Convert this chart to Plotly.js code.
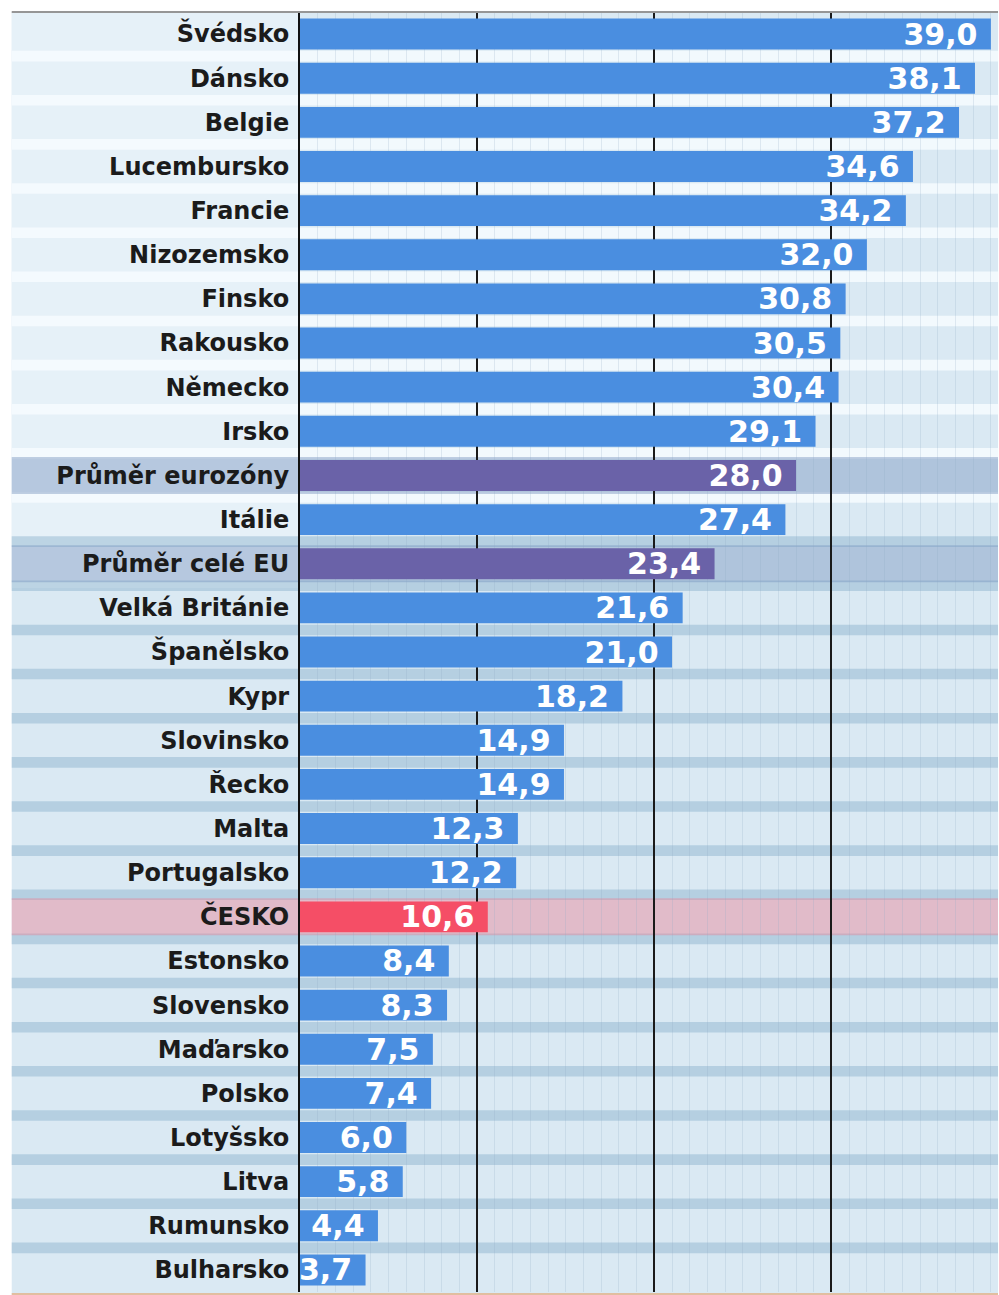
<!DOCTYPE html>
<html>
<head>
<meta charset="utf-8">
<script src="https://cdn.plot.ly/plotly-3.0.1.min.js"></script>
<style>html,body{margin:0;padding:0;background:#fff;}#chart{width:999px;height:1295px;}</style>
</head>
<body>
<div id="chart"></div>
<script>
var countries = ["Švédsko","Dánsko","Belgie","Lucembursko","Francie","Nizozemsko","Finsko","Rakousko","Německo","Irsko","Průměr eurozóny","Itálie","Průměr celé EU","Velká Británie","Španělsko","Kypr","Slovinsko","Řecko","Malta","Portugalsko","ČESKO","Estonsko","Slovensko","Maďarsko","Polsko","Lotyšsko","Litva","Rumunsko","Bulharsko"];
var values = [39.0,38.1,37.2,34.6,34.2,32.0,30.8,30.5,30.4,29.1,28.0,27.4,23.4,21.6,21.0,18.2,14.9,14.9,12.3,12.2,10.6,8.4,8.3,7.5,7.4,6.0,5.8,4.4,3.7];
var averages = ["Průměr eurozóny","Průměr celé EU"];
var home = ["ČESKO"];

var BLUE = "rgb(74,142,224)", PURPLE = "rgb(106,98,168)", RED = "rgb(245,78,102)";
var colors = countries.map(function(c){ return averages.indexOf(c)>=0 ? PURPLE : (home.indexOf(c)>=0 ? RED : BLUE); });
var labels = values.map(function(v){ return v.toFixed(1).replace(".", ",") + "\u00a0"; });

var LEFT = -0.413; // paper x of left edge of background panel
var shapes = [];
shapes.push({type:"rect", xref:"paper", yref:"paper", x0:LEFT, x1:1, y0:-0.003, y1:1, fillcolor:"rgb(218,233,243)", line:{width:0}, layer:"below"});
shapes.push({type:"rect", xref:"paper", yref:"paper", x0:LEFT, x1:0, y0:0.55, y1:1, fillcolor:"rgba(238,246,251,0.6)", line:{width:0}, layer:"below"});
for (var i = 0; i < countries.length - 1; i++) {
  var upper = i < 11;
  shapes.push({type:"rect", xref:"paper", yref:"y", x0:LEFT, x1:1, y0:i+0.38, y1:i+0.62,
    fillcolor: upper ? "rgba(248,252,255,0.8)" : "rgba(130,172,200,0.42)", line:{width:0}, layer:"below"});
}
countries.forEach(function(c, i){
  if (averages.indexOf(c) >= 0) {
    shapes.push({type:"rect", xref:"paper", yref:"y", x0:LEFT, x1:1, y0:i-0.42, y1:i+0.42, fillcolor:"rgba(110,140,185,0.40)", line:{width:0}, layer:"below"});
  } else if (home.indexOf(c) >= 0) {
    shapes.push({type:"rect", xref:"paper", yref:"y", x0:LEFT, x1:1, y0:i-0.42, y1:i+0.42, fillcolor:"rgba(232,130,150,0.45)", line:{width:0}, layer:"below"});
  }
});
shapes.push({type:"line", xref:"paper", yref:"paper", x0:LEFT, x1:1, y0:1, y1:1, line:{color:"rgb(150,150,150)", width:2}});
shapes.push({type:"line", xref:"paper", yref:"paper", x0:LEFT, x1:1, y0:-0.002, y1:-0.002, line:{color:"rgb(225,190,160)", width:3}});

var trace = {
  type:"bar", orientation:"h",
  y: countries, x: values,
  marker:{color: colors, line:{width:0}},
  text: labels, textposition:"inside", insidetextanchor:"end",
  textfont:{family:"DejaVu Sans, sans-serif", size:30, color:"#ffffff", weight:"bold"},
  constraintext:"none", cliponaxis:false,
  hoverinfo:"none"
};

var layout = {
  width:999, height:1295,
  margin:{l:300, r:1, t:12, b:3, pad:0},
  paper_bgcolor:"#ffffff", plot_bgcolor:"rgba(0,0,0,0)",
  showlegend:false, bargap:0.3,
  font:{family:"DejaVu Sans, sans-serif"},
  xaxis:{range:[0,39.4], dtick:10, tick0:0, showticklabels:false, ticks:"",
    showgrid:true, gridcolor:"#1a1a1a", gridwidth:2, zeroline:false, showline:false,
    minor:{dtick:1, showgrid:true, gridcolor:"rgba(140,170,195,0.22)", gridwidth:1}},
  yaxis:{type:"category", autorange:"reversed", showgrid:false, zeroline:false,
    showline:true, linecolor:"#111111", linewidth:2, ticks:"", ticklabelstandoff:4,
    tickfont:{family:"DejaVu Sans, sans-serif", size:24, color:"#1b1b1b", weight:"bold"}},
  shapes: shapes
};

Plotly.newPlot("chart", [trace], layout, {displayModeBar:false, staticPlot:true});
</script>
</body>
</html>
